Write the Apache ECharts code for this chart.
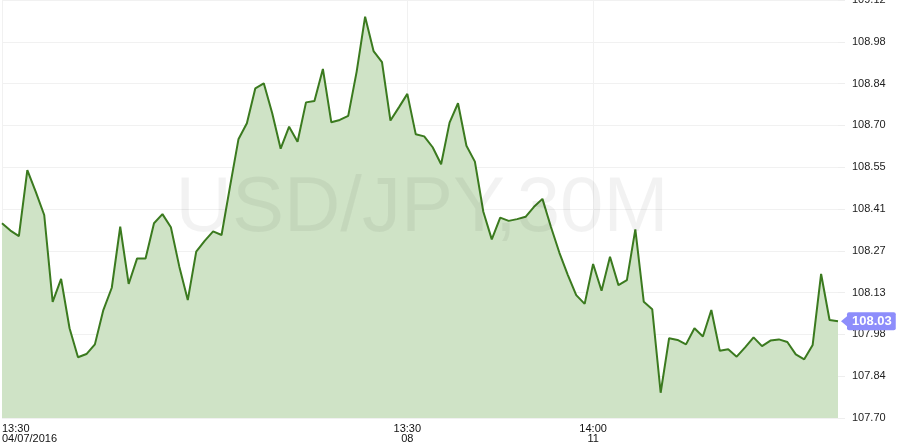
<!DOCTYPE html>
<html>
<head>
<meta charset="utf-8">
<title>USD/JPY 30M</title>
<script src="https://cdn.jsdelivr.net/npm/echarts@6/dist/echarts.min.js"></script>
<style>
  html, body { margin: 0; padding: 0; background: #fff; }
  #chart { width: 900px; height: 448px; }
</style>
</head>
<body>
<div id="chart"></div>
<script>
// 价格数据 (30分钟收盘价)
const prices = [
  108.364, 108.339, 108.320, 108.545, 108.471, 108.392, 108.096, 108.174, 108.006, 107.907,
  107.918, 107.951, 108.068, 108.144, 108.352, 108.157, 108.244, 108.244, 108.364, 108.395,
  108.350, 108.216, 108.102, 108.267, 108.304, 108.336, 108.324, 108.489, 108.650, 108.705,
  108.824, 108.841, 108.739, 108.618, 108.693, 108.642, 108.776, 108.781, 108.890, 108.708,
  108.716, 108.730, 108.881, 109.068, 108.951, 108.913, 108.714, 108.759, 108.805, 108.667,
  108.660, 108.623, 108.565, 108.707, 108.773, 108.628, 108.574, 108.403, 108.309, 108.383,
  108.372, 108.378, 108.386, 108.420, 108.447, 108.352, 108.264, 108.188, 108.119, 108.089,
  108.225, 108.134, 108.250, 108.153, 108.170, 108.343, 108.096, 108.071, 107.786, 107.972,
  107.966, 107.951, 108.006, 107.978, 108.068, 107.929, 107.934, 107.909, 107.941, 107.975,
  107.945, 107.964, 107.968, 107.959, 107.917, 107.900, 107.949, 108.191, 108.034, 108.03
];
// x轴刻度 (只在这几个位置显示)
const xTickIndex = [0, 48, 70];
const xTickLabels = ['13:30\n04/07/2016', '13:30\n08', '14:00\n11'];
// y轴刻度
const yMin = 107.70;
const yStep = 0.1425;
const yTickLabels = ['107.70', '107.84', '107.98', '108.13', '108.27', '108.41', '108.55', '108.70', '108.84', '108.98', '109.12'];
const lastPrice = 108.03;

const categories = prices.map((p, i) => i);

const chart = echarts.init(document.getElementById('chart'));
const option = {
  animation: false,
  grid: { left: 2, right: 62, top: 0, bottom: 30, outerBoundsMode: 'none' },
  graphic: [
    {
      type: 'text',
      z: 100,
      x: 422,
      y: 209,
      style: {
        text: 'USD/JPY,30M',
        align: 'center',
        verticalAlign: 'middle',
        font: '78px "Liberation Sans", Arial, sans-serif',
        fill: 'rgba(0,0,0,0.05)'
      }
    }
  ],
  xAxis: {
    type: 'category',
    data: categories,
    boundaryGap: false,
    axisLine: { show: false },
    axisTick: { show: false },
    axisLabel: {
      interval: (idx) => xTickIndex.includes(idx),
      formatter: (v) => xTickLabels[xTickIndex.indexOf(Number(v))] || '',
      fontFamily: '"Liberation Sans", Arial, sans-serif',
      fontSize: 11,
      lineHeight: 10,
      color: '#111',
      margin: 6,
      alignMinLabel: 'left'
    },
    splitLine: {
      show: true,
      interval: (idx) => xTickIndex.includes(idx),
      lineStyle: { color: '#f1f1f1', width: 1 }
    }
  },
  yAxis: {
    type: 'value',
    position: 'right',
    min: yMin,
    max: yMin + yStep * 10,
    interval: yStep,
    axisLine: { show: false },
    axisTick: { show: true, length: 7, lineStyle: { color: '#eeeeee' } },
    axisLabel: {
      margin: 14,
      fontFamily: '"Liberation Sans", Arial, sans-serif',
      fontSize: 11,
      color: '#222',
      hideOverlap: false,
      formatter: (v) => yTickLabels[Math.round((v - yMin) / yStep)]
    },
    splitLine: { lineStyle: { color: '#f1f1f1', width: 1 } }
  },
  series: [
    {
      type: 'line',
      data: prices,
      symbol: 'none',
      lineStyle: { color: '#3b7a1f', width: 2 },
      areaStyle: { color: '#cfe3c6', opacity: 1 },
      markLine: {
        silent: true,
        symbol: 'none',
        lineStyle: { color: 'transparent', width: 0 },
        data: [{ yAxis: lastPrice }],
        label: {
          show: true,
          position: 'end',
          distance: 9,
          formatter: lastPrice.toFixed(2),
          color: '#fff',
          fontWeight: 'bold',
          fontSize: 13,
          fontFamily: '"Liberation Sans", Arial, sans-serif',
          backgroundColor: '#8d8dfb',
          padding: [3, 4, 2, 5],
          borderRadius: 2
        }
      },
      markPoint: {
        silent: true,
        symbol: 'triangle',
        symbolSize: [10, 6],
        symbolRotate: 90,
        symbolOffset: [6, 0],
        itemStyle: { color: '#8d8dfb' },
        label: { show: false },
        data: [{ coord: [prices.length - 1, lastPrice] }]
      }
    }
  ]
};
chart.setOption(option);
</script>
</body>
</html>
